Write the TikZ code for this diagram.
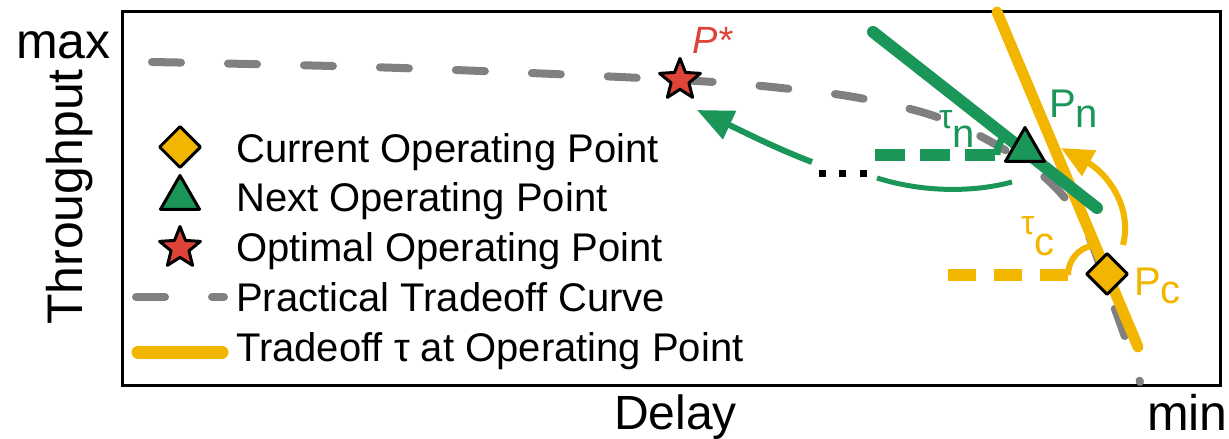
\documentclass[tikz,border=0pt]{standalone}
\usepackage{fontspec}
\setmainfont{Liberation Sans}
\usepackage{xcolor}
\usepackage{tikz}
\usetikzlibrary{arrows.meta,shapes.geometric}

\definecolor{ygold}{RGB}{242,181,0}
\definecolor{pgreen}{RGB}{26,150,88}
\definecolor{pred}{RGB}{222,68,56}
\definecolor{cgray}{RGB}{128,128,128}

\newcommand{\legfont}{\fontsize{40}{48}\selectfont}
\newcommand{\axfont}{\fontsize{50}{60}\selectfont}
\newcommand{\taufont}{\fontsize{34}{40}\selectfont}

\tikzset{
  curpt/.style={diamond, draw=black, line width=3pt, line join=round, fill=ygold, inner sep=0pt, minimum size=42pt},
  nextpt/.style={regular polygon, regular polygon sides=3, draw=black, line width=3pt, line join=round, fill=pgreen, inner sep=0pt, minimum size=45pt},
  optpt/.style={star, star points=5, star point ratio=2.3, draw=black, line width=3pt, line join=round, fill=pred, inner sep=0pt, minimum size=43pt},
  legtext/.style={anchor=base west, inner sep=0pt, font=\legfont},
  practical/.style={cgray, line width=8pt, line cap=round, dash pattern=on 29pt off 47pt},
  tradeline/.style={ygold, line width=11pt, line cap=round},
  nextline/.style={pgreen, line width=12pt, line cap=round},
}

\begin{document}
\begin{tikzpicture}[x=1pt,y=-1pt]
\useasboundingbox (0,0) rectangle (1229,439);
% frame and axes
\draw[line width=3pt] (122,11) rectangle (1220,385);
\node[anchor=base east, inner sep=0pt, font=\axfont] (ymax) at (111,58) {max};
\node[anchor=base, rotate=90, inner sep=0pt, font=\axfont] (ylab) at (82,197) {Throughput};
\node[anchor=base west, inner sep=0pt, font=\fontsize{48}{58}\selectfont] (xlab) at (614,429) {Delay};
\node[anchor=base west, inner sep=0pt, font=\axfont] (xmin) at (1147,430) {min};
% practical tradeoff curve
\draw[practical] plot[smooth, tension=0.6] coordinates {(152,62) (400,68) (680,80) (800,90) (870,100) (940,118) (1000,147) (1050,182) (1085,228) (1108,290) (1125,337) (1140,382)};
% tradeoff lines at the operating points
\coordinate (ytop) at (997,12);
\coordinate (ybot) at (1138,347);
\coordinate (gtop) at (873,32);
\coordinate (gbot) at (1097,208);
\draw[tradeline] (ytop) -- (ybot);
\draw[nextline] (gtop) -- (gbot);
% horizontal references and angles
\coordinate (yh0) at (948,275);
\coordinate (yh1) at (1068,275);
\draw[ygold, line width=12pt, dash pattern=on 28pt off 18pt] (yh0) -- (yh1);
\draw[ygold, line width=6pt] (yh1) arc[start angle=180, end angle=100, radius=30pt];
\coordinate (gh0) at (875,155);
\coordinate (gh1) at (997,155);
\draw[pgreen, line width=12pt, dash pattern=on 30pt off 15pt] (gh0) -- (gh1);
\draw[pgreen, line width=7pt] (gh1) arc[start angle=180, end angle=142, radius=28pt];
% moves
\coordinate (ya0) at (1123,245);
\coordinate (ya1) at (1061,148);
\draw[ygold, line width=6pt, -{Triangle[length=32pt, width=28pt]}] (ya0) .. controls (1133,205) and (1105,172) .. (ya1);
\coordinate (ga0) at (877,178);
\coordinate (ga1) at (1012,182);
\draw[pgreen, line width=5pt] (ga0) .. controls (925,193) and (975,192) .. (ga1);
\coordinate (dd0) at (818.5,173);
\coordinate (dd1) at (868,173);
\draw[line width=7pt, dash pattern=on 7pt off 13.5pt] (dd0) -- (dd1);
\coordinate (gs0) at (812,162);
\coordinate (gs1) at (697,110);
\draw[pgreen, line width=6pt, -{Triangle[length=36pt, width=30pt]}] (gs0) .. controls (775,148) and (740,130) .. (gs1);
% operating points
\node[optpt] (pstar) at (680,80) {};
\node[nextpt] (pnext) at (1025,150) {};
\node[curpt] (pcur) at (1107,274) {};
\node[anchor=base west, inner sep=0pt, font=\fontsize{38}{44}\selectfont\itshape, text=pred] (pstarlab) at (692,53) {P*};
\node[anchor=base west, inner sep=0pt, font=\legfont, text=pgreen] (pnlab) at (1049,117) {P\raisebox{-10pt}{n}};
\node[anchor=base west, inner sep=0pt, font=\legfont, text=ygold] (pclab) at (1134,295) {P\raisebox{-8pt}{c}};
\node[anchor=base west, inner sep=0pt, font=\legfont, text=pgreen] (taunlab) at (939,128) {{\taufont τ}\raisebox{-19pt}{n}};
\node[anchor=base west, inner sep=0pt, font=\legfont, text=ygold] (tauclab) at (1021,234) {{\taufont τ}\raisebox{-21pt}{c}};
% legend
\node[curpt] (legcur) at (180,147) {};
\node[nextpt] (legnext) at (180,198) {};
\node[optpt] (legopt) at (180,248) {};
\draw[practical] (136,297) -- (224,297);
\draw[tradeline, line width=13pt] (138,352) -- (222,352);
\node[legtext] (txcur) at (236,162) {Current Operating Point};
\node[legtext] (txnext) at (236,211) {Next Operating Point};
\node[legtext] (txopt) at (236,261) {Optimal Operating Point};
\node[legtext] (txprac) at (236,311) {Practical Tradeoff Curve};
\node[legtext] (txtrade) at (236,361) {Tradeoff τ at Operating Point};
\end{tikzpicture}
\end{document}
